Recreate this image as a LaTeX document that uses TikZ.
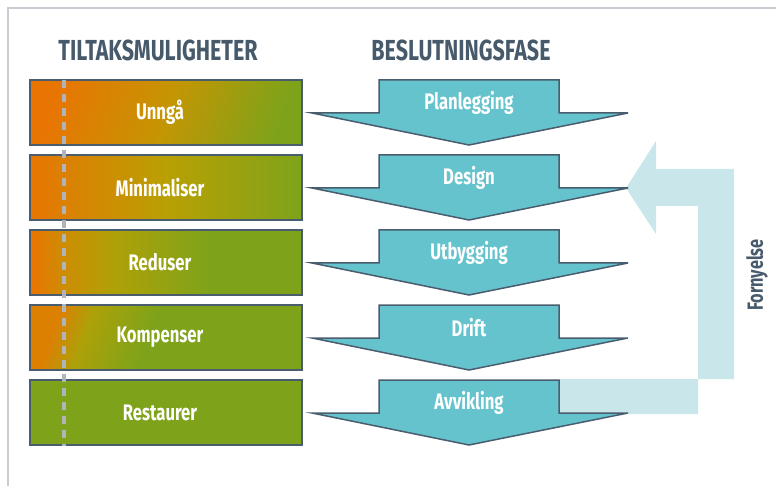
\documentclass[tikz,border=0pt]{standalone}
\usepackage{fontspec}
\setmainfont{Fira Sans}[FakeStretch=0.74]
\usepackage{tikz}
\usetikzlibrary{shadings}
\definecolor{slate}{HTML}{465A6C}
\definecolor{tealfill}{HTML}{65C3CD}
\definecolor{tealline}{HTML}{4A5D6E}
\definecolor{renew}{HTML}{C9E6EA}
\definecolor{framegray}{HTML}{C8CDD3}
\definecolor{dashgray}{HTML}{B0B4B9}
\definecolor{dorange}{HTML}{E87502}
\definecolor{dolive}{HTML}{B9A004}
\definecolor{dgreen}{HTML}{7EA31A}
% only the middle half (25bp..75bp) of a shading lands on the box
\pgfdeclarehorizontalshading{redshade}{100bp}{color(0bp)=(dorange); color(25bp)=(dorange); color(27bp)=(dorange!85!dolive); color(31bp)=(dorange!45!dolive); color(40bp)=(dolive!85!dgreen); color(58bp)=(dgreen); color(100bp)=(dgreen)}
\pgfdeclarehorizontalshading{kompshade}{100bp}{color(0bp)=(dorange!75!dolive); color(25bp)=(dorange!75!dolive); color(32bp)=(dolive!80!dgreen); color(46bp)=(dgreen); color(100bp)=(dgreen)}

\tikzset{
    optbox/.style={draw=tealline, line width=1.5pt, minimum width=272pt, minimum height=65pt},
    optlabel/.style={text=white, xshift=-6pt, font=\bfseries\fontsize{22.5}{26}\selectfont},
    fasearrow/.style={draw=tealline, line width=1.5pt, fill=tealfill, line join=miter},
    fasetext/.style={text=white, font=\bfseries\fontsize{22.5}{26}\selectfont},
    header/.style={text=slate, font=\bfseries\fontsize{29}{32}\selectfont}
}

\begin{document}
\begin{tikzpicture}[x=1pt, y=-1pt]
\useasboundingbox (0,0) rectangle (776,486);
\draw[framegray, line width=2.5pt] (8,486) -- (8,8) -- (776,8);

\node[header] (tiltak) at (158,50) {TILTAKSMULIGHETER};
\node[header] (fase) at (461,50) {BESLUTNINGSFASE};

% left column, orange fades out row by row
\node[optbox, left color=dorange, right color=dgreen, middle color=dolive!75!dorange, shading angle=72,
    label={[optlabel]center:Unngå}] (unnga) at (166,112.5) {};
\node[optbox, left color=dorange, right color=dgreen, middle color=dolive,
    label={[optlabel]center:Minimaliser}] (minim) at (166,187.5) {};
\node[optbox, shading=redshade, label={[optlabel]center:Reduser}] (redus) at (166,262.5) {};
\node[optbox, shading=kompshade, shading angle=-20,
    label={[optlabel]center:Kompenser}] (kompens) at (166,337.5) {};
\node[optbox, fill=dgreen, label={[optlabel]center:Restaurer}] (restaur) at (166,412.5) {};
\draw[dashgray, line width=3.5pt, dash pattern=on 8pt off 6pt] (64,80) -- (64,446);

% renewal loop behind the phase arrows
\fill[renew] (560,379) -- (734,379) -- (734,169) -- (656,169) -- (656,141)
    -- (626,188) -- (656,234) -- (656,206) -- (698,206) -- (698,414) -- (560,414) -- cycle;
\node[text=slate, font=\bfseries\fontsize{22}{24}\selectfont, rotate=90] (fornyelse) at (757,275) {Fornyelse};

% phase arrows
\foreach \y/\name/\txt in {80/plan/Planlegging, 155/design/Design, 230/utbygg/Utbygging, 305/drift/Drift, 380/avvik/Avvikling} {
    \draw[fasearrow] (379,\y) -- (559,\y) -- (559,\y+33) -- (628,\y+33) -- (469,\y+65)
        -- (312,\y+33) -- (379,\y+33) -- cycle;
    \node[fasetext] (\name) at (469,\y+23) {\txt};
}
\end{tikzpicture}
\end{document}
